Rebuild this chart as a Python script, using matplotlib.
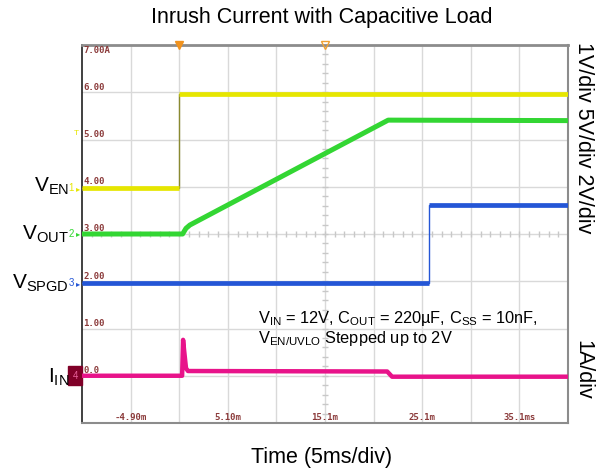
import matplotlib
matplotlib.use('Agg')
import matplotlib.pyplot as plt
import numpy as np

plt.rcParams['font.family'] = ['Liberation Sans', 'DejaVu Sans']
plt.rcParams['mathtext.fontset'] = 'custom'
plt.rcParams['mathtext.rm'] = 'Liberation Sans'
plt.rcParams['mathtext.it'] = 'Liberation Sans:italic'
plt.rcParams['mathtext.bf'] = 'Liberation Sans:bold'

# ---- data (time in ms, value in screen divisions units) ----
ven_t = [-9.9, 0.1, 0.1, 40.1]
ven_v = [3.97, 3.97, 5.97, 5.97]
vout_t = [-9.9, 0.45, 0.8, 1.2, 21.6, 40.1]
vout_v = [3.0, 3.0, 3.12, 3.19, 5.41, 5.40]
vspgd_t = [-9.9, 25.8, 25.8, 40.1]
vspgd_v = [1.96, 1.96, 3.62, 3.62]
iin_t = [-9.9, 0.40, 0.50, 0.60, 0.80, 1.0, 21.5, 22.0, 40.1]
iin_v = [0.0, 0.0, 0.76, 0.55, 0.16, 0.10, 0.09, -0.02, -0.02]

x_ticks = [-4.9, 5.1, 15.1, 25.1, 35.1]
x_ticklabels = ['-4.90m', '5.10m', '15.1m', '25.1m', '35.1ms']
y_ticks = [7, 6, 5, 4, 3, 2, 1, 0]
y_ticklabels = ['7.00A', '6.00', '5.00', '4.00', '3.00', '2.00', '1.00', '0.0']

c_ven = '#e6e600'
c_ven_edge = '#8a8a30'
c_vout = '#33d633'
c_vspgd = '#2456d6'
c_iin = '#e8138a'
c_lab = '#8b3a3a'

fig = plt.figure(figsize=(6.02, 4.72), dpi=100)
ax = fig.add_axes([82/602, 49/472, 486/602, 378/472])
ax.set_xlim(-9.9, 40.1)
ax.set_ylim(-1, 7)

# grid
for k in range(1, 10):
    ax.axvline(-9.9 + 5 * k, color='#d9d9d9', lw=1, zorder=0)
for k in range(0, 8):
    ax.axhline(k, color='#d9d9d9', lw=1, zorder=0)
# center minor ticks
mt = np.arange(-9.9, 40.1, 1.0)
ax.plot(mt, np.full_like(mt, 3.0), ls='none', marker='|', ms=5, color='#c8c8c8', mew=1, zorder=0)
mv = np.arange(-1, 7, 0.2)
ax.plot(np.full_like(mv, 15.1), mv, ls='none', marker='_', ms=5, color='#c8c8c8', mew=1, zorder=0)

ax.set_xticks([])
ax.set_yticks([])
for s in ['top', 'right', 'bottom']:
    ax.spines[s].set_color('#8c8c8c')
ax.spines['top'].set_linewidth(2)
ax.spines['right'].set_linewidth(1.5)
ax.spines['bottom'].set_linewidth(1.5)
ax.spines['left'].set_color('#202020')
ax.spines['left'].set_linewidth(1.2)


def thick(t, v):
    T, V = [t[0]], [v[0]]
    for i in range(1, len(t)):
        if t[i] == t[i - 1]:
            T.append(np.nan)
            V.append(np.nan)
        T.append(t[i])
        V.append(v[i])
    return T, V


ax.plot(ven_t, ven_v, color=c_ven_edge, lw=1.0, zorder=3)
ax.plot(*thick(ven_t, ven_v), color=c_ven, lw=3.4, zorder=4, solid_capstyle='butt')
ax.plot(vout_t, vout_v, color=c_vout, lw=3.6, zorder=4, solid_capstyle='butt')
ax.plot(vspgd_t, vspgd_v, color=c_vspgd, lw=1.0, zorder=3)
ax.plot(*thick(vspgd_t, vspgd_v), color=c_vspgd, lw=3.4, zorder=4, solid_capstyle='butt')
ax.plot(iin_t, iin_v, color=c_iin, lw=3.2, zorder=4, solid_capstyle='butt')

# in-plot tick labels
for y, lab in zip(y_ticks, y_ticklabels):
    top = (y == 7)
    ax.annotate(lab, xy=(-9.9, y), xytext=(1, -1 if top else 0.5), textcoords='offset points',
                fontsize=6.5, family='DejaVu Sans Mono', color=c_lab, fontweight='bold',
                ha='left', va='top' if top else 'bottom')
for x, lab in zip(x_ticks, x_ticklabels):
    ax.annotate(lab, xy=(x, -1), xytext=(0, 0.5), textcoords='offset points',
                fontsize=6.5, family='DejaVu Sans Mono', color=c_lab, fontweight='bold',
                ha='center', va='bottom')

# top markers
ax.plot([0.1], [7], marker='v', ms=6, color='#f0921e', clip_on=False, zorder=6)
ax.plot([15.1], [7], marker='v', ms=6, mfc='none', mec='#f0a030', clip_on=False, zorder=6)

# channel markers
for lab, y, col in [('1', 3.97, c_ven), ('2', 3.0, c_vout), ('3', 1.96, c_vspgd)]:
    ax.annotate(lab, xy=(-9.9, y), xytext=(-8, 0), textcoords='offset points',
                fontsize=7, color=col, ha='center', va='center', annotation_clip=False)
    ax.annotate('\u25B8', xy=(-9.9, y), xytext=(-3, 0), textcoords='offset points',
                fontsize=6, color=col, ha='center', va='center', annotation_clip=False,
                family='DejaVu Sans')
ax.annotate('4', xy=(-9.9, 0), xytext=(-5, 0), textcoords='offset points',
            fontsize=7, color='#e8609a', ha='center', va='center', annotation_clip=False,
            bbox=dict(boxstyle='square,pad=0.45', fc='#800028', ec='#800028'))
ax.annotate('T', xy=(-9.9, 5.07), xytext=(-4, 2), textcoords='offset points',
            fontsize=6, color=c_ven, ha='center', va='center', annotation_clip=False)

# annotation text
ax.text(258/602, 1 - 318/472, r'V$_\mathregular{IN}$ = 12V, C$_\mathregular{OUT}$ = 220µF, C$_\mathregular{SS}$ = 10nF,',
        transform=fig.transFigure, fontsize=11.8, ha='left', va='center')
ax.text(258/602, 1 - 339/472, r'V$_\mathregular{EN/UVLO}$ Stepped up to 2V',
        transform=fig.transFigure, fontsize=11.8, ha='left', va='center')

# left labels
for lab, yp in [(r'V$_\mathregular{EN}$', 186), (r'V$_\mathregular{OUT}$', 234),
                (r'V$_\mathregular{SPGD}$', 283), (r'I$_\mathregular{IN}$', 377)]:
    fig.text(69/602, 1 - yp/472, lab, fontsize=15, ha='right', va='center')

# right labels
fig.text(583/602, 1 - 138/472, '1V/div 5V/div 2V/div', fontsize=15.5, rotation=270,
         ha='center', va='center')
fig.text(583/602, 1 - 370/472, '1A/div', fontsize=15.5, rotation=270, ha='center', va='center')

# title and x label
fig.text(322/602, 1 - 18/472, 'Inrush Current with Capacitive Load', fontsize=15.5,
         ha='center', va='center')
fig.text(322/602, 1 - 457/472, 'Time (5ms/div)', fontsize=15.5, ha='center', va='center')

fig.savefig('out.png', dpi=100)
